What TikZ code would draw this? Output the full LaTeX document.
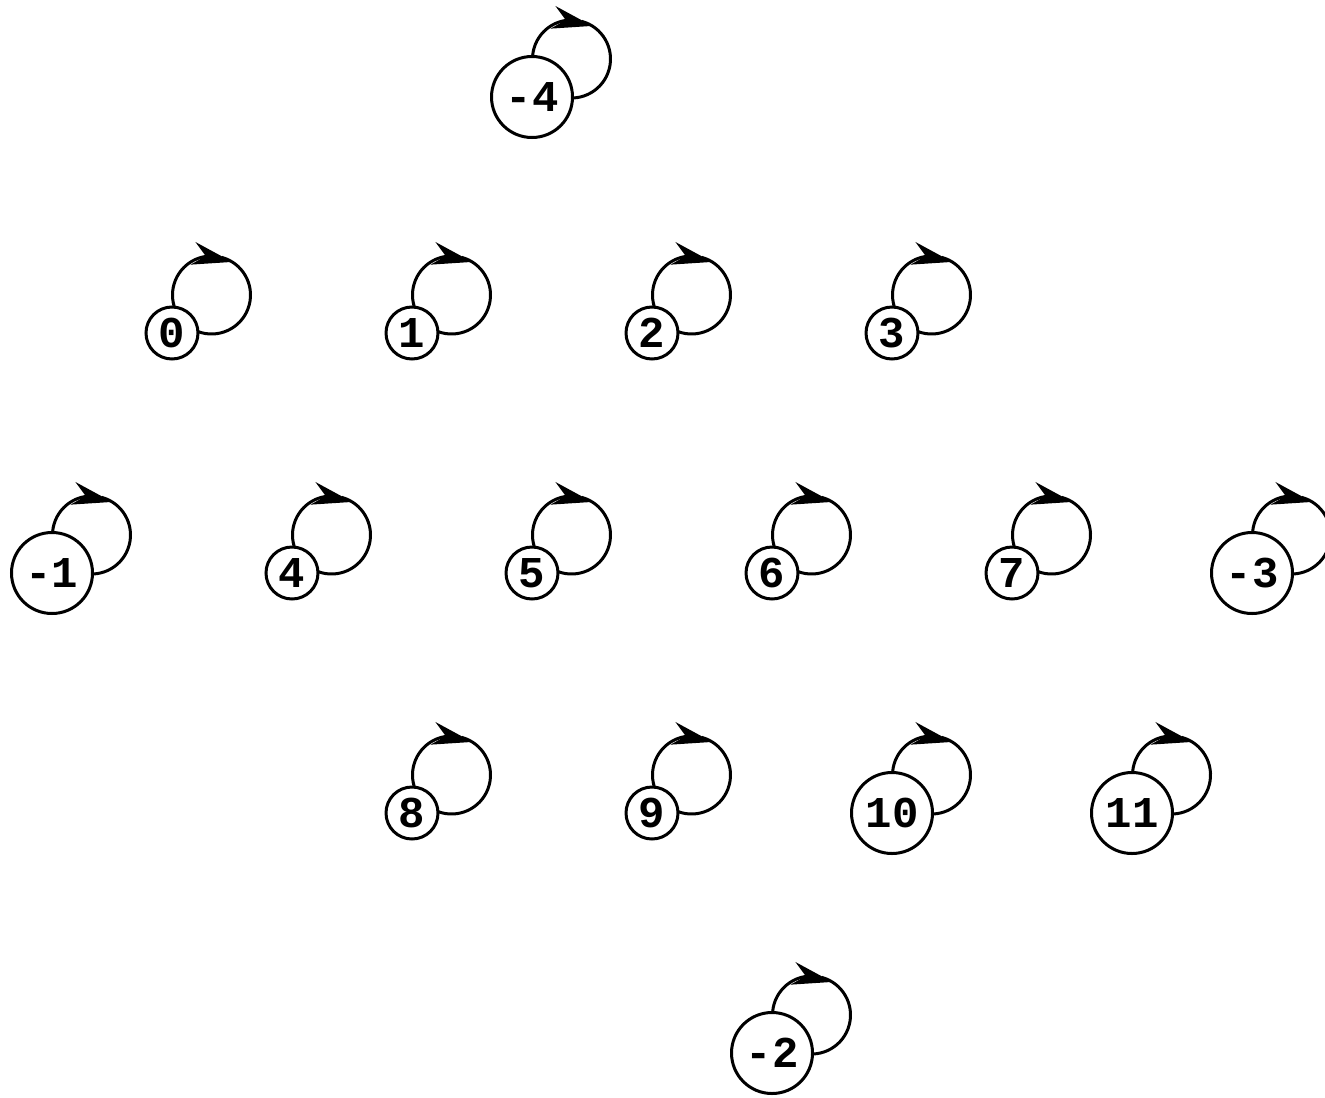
\documentclass[tikz,border=0pt]{standalone}
\usepackage{fontspec}
\setmonofont{Liberation Mono}
\usetikzlibrary{arrows.meta,bending,backgrounds}
\newcommand\selfloop[1]{%
  \draw[lp] ([shift={(19.75pt,19pt)}]#1.center) ++(75:19.5pt) arc[start angle=75,end angle=-135,radius=19.5pt];
  \draw[lp,-{Stealth[length=20pt,width=11.5pt,flex]}] ([shift={(19.75pt,19pt)}]#1.center) ++(225:19.5pt) arc[start angle=225,end angle=58,radius=19.5pt];}
\begin{document}
\begin{tikzpicture}[x=0.5pt,y=-0.5pt,
  st/.style={circle,draw,fill=white,line width=1.5pt,inner sep=0pt,minimum size=26pt,
    font=\ttfamily\bfseries\fontsize{22}{22}\selectfont},
  wide/.style={st,minimum size=40.5pt},
  lp/.style={line width=1.5pt}]
\useasboundingbox (0,0) rectangle (1325,1097);
\node[wide] (m4) at (532,97) {-4};
\node[st] (n0) at (172,333) {0};
\node[st] (n1) at (412,333) {1};
\node[st] (n2) at (652,333) {2};
\node[st] (n3) at (892,333) {3};
\node[wide] (m1) at (52,573) {-1};
\node[st] (n4) at (292,573) {4};
\node[st] (n5) at (532,573) {5};
\node[st] (n6) at (772,573) {6};
\node[st] (n7) at (1012,573) {7};
\node[wide] (m3) at (1252,573) {-3};
\node[st] (n8) at (412,813) {8};
\node[st] (n9) at (652,813) {9};
\node[wide] (n10) at (892,813) {10};
\node[wide] (n11) at (1132,813) {11};
\node[wide] (m2) at (772,1053) {-2};
\begin{scope}[on background layer]
\foreach \n in {m4,n0,n1,n2,n3,m1,n4,n5,n6,n7,m3,n8,n9,n10,n11,m2} {\selfloop{\n}}
\end{scope}
\end{tikzpicture}
\end{document}
